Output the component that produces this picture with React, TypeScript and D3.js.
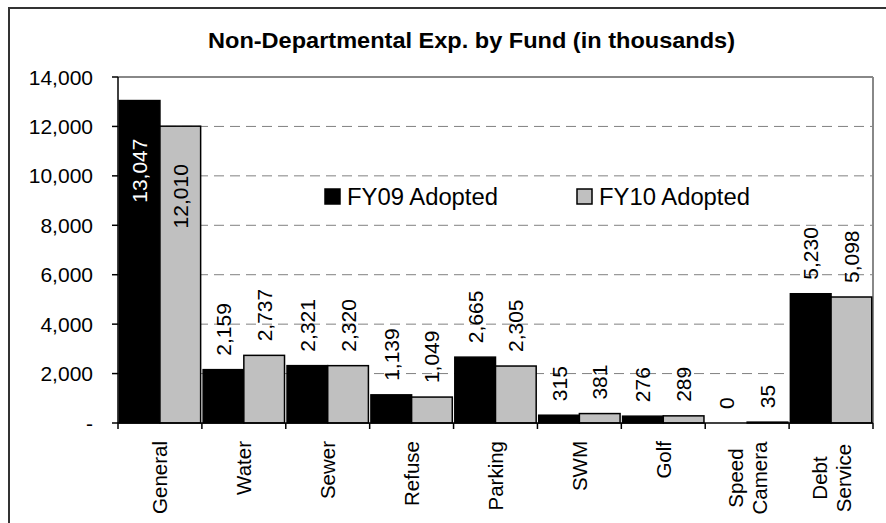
import React from "react";
import * as d3 from "d3";

// Chart data (values in thousands)
const categories = ["General", "Water", "Sewer", "Refuse", "Parking", "SWM", "Golf", "Speed\nCamera", "Debt\nService"];
const fy09 = [13047, 2159, 2321, 1139, 2665, 315, 276, 0, 5230];
const fy10 = [12010, 2737, 2320, 1049, 2305, 381, 289, 35, 5098];
const seriesNames = ["FY09 Adopted", "FY10 Adopted"];
const seriesColors = ["#000000", "#c0c0c0"];
const yTicks = [0, 2000, 4000, 6000, 8000, 10000, 12000, 14000];

const W = 886;
const H = 523;
const plot = { left: 118, right: 873, top: 77, bottom: 423 };
const FONT = "'Liberation Sans', Arial, Helvetica, sans-serif";

const App = () => {
  const x = d3.scaleBand<string>()
    .domain(categories)
    .range([plot.left, plot.right])
    .paddingInner(0.03)
    .paddingOuter(0.015);

  const xSub = d3.scaleBand<number>()
    .domain([0, 1])
    .range([0, x.bandwidth()])
    .padding(0);

  const y = d3.scaleLinear().domain([0, 14000]).range([plot.bottom, plot.top]);
  const fmt = d3.format(",");

  const step = (plot.right - plot.left) / categories.length;
  const boundaries = d3.range(categories.length + 1).map((i) => plot.left + i * step);

  const series = [fy09, fy10];

  return (
    <svg
      width={W}
      height={H}
      style={{ position: "absolute", left: 0, top: 0, background: "#fff" }}
      fontFamily={FONT}
    >
      <rect x={0} y={0} width={W} height={H} fill="#fff" />
      {/* outer border */}
      <rect x={9} y={8} width={W + 20} height={H + 20} fill="none" stroke="#333" strokeWidth={2} />

      {/* title */}
      <text x={208} y={48} fontSize={22} fontWeight="bold" textLength={527} lengthAdjust="spacingAndGlyphs">
        Non-Departmental Exp. by Fund (in thousands)
      </text>

      {/* gridlines */}
      {yTicks.filter((t) => t > 0 && t < 14000).map((t) => (
        <line key={t} x1={plot.left} x2={plot.right} y1={y(t)} y2={y(t)}
          stroke="#808080" strokeWidth={1} strokeDasharray="10,6" />
      ))}

      {/* plot frame top/right */}
      <line x1={plot.left} x2={plot.right} y1={plot.top} y2={plot.top} stroke="#888" strokeWidth={2} />
      <line x1={plot.right} x2={plot.right} y1={plot.top} y2={plot.bottom} stroke="#888" strokeWidth={2} />

      {/* bars */}
      {categories.map((c, i) => (
        <g key={c}>
          {series.map((s, k) => (
            <rect key={k}
              x={(x(c) as number) + (xSub(k) as number)}
              y={y(s[i])}
              width={xSub.bandwidth()}
              height={plot.bottom - y(s[i])}
              fill={seriesColors[k]}
              stroke="#000"
              strokeWidth={1.5}
            />
          ))}
        </g>
      ))}

      {/* value labels */}
      {categories.map((c, i) => series.map((s, k) => {
        const cx = (x(c) as number) + (xSub(k) as number) + xSub.bandwidth() / 2;
        const inside = y(s[i]) < plot.top + 60;
        const ty = inside ? y(s[i]) + 38 : y(s[i]) - 14;
        return (
          <text key={c + k}
            transform={`translate(${cx},${ty}) rotate(-90)`}
            textAnchor={inside ? "end" : "start"}
            dominantBaseline="central"
            fontSize={21}
            fill={inside && k === 0 ? "#fff" : "#000"}
          >
            {fmt(s[i])}
          </text>
        );
      }))}

      {/* y axis */}
      <line x1={plot.left} x2={plot.left} y1={plot.top} y2={plot.bottom} stroke="#000" strokeWidth={1.5} />
      {yTicks.map((t) => (
        <g key={t}>
          <line x1={plot.left - 6} x2={plot.left} y1={y(t)} y2={y(t)} stroke="#000" strokeWidth={1.5} />
          <text x={93} y={y(t)} textAnchor="end" dominantBaseline="central" fontSize={21}>
            {t === 0 ? "-" : fmt(t)}
          </text>
        </g>
      ))}

      {/* x axis */}
      <line x1={plot.left} x2={plot.right} y1={plot.bottom} y2={plot.bottom} stroke="#000" strokeWidth={1.5} />
      {boundaries.map((b, i) => (
        <line key={i} x1={b} x2={b} y1={plot.bottom} y2={plot.bottom + 6} stroke="#000" strokeWidth={1.5} />
      ))}
      {categories.map((c) => {
        const lines = c.split("\n");
        const cx = (x(c) as number) + x.bandwidth() / 2;
        const multi = lines.length > 1;
        return lines.map((ln, j) => (
          <text key={c + j}
            transform={`translate(${cx + (j - (lines.length - 1) / 2) * 24},${multi ? 478 : 441}) rotate(-90)`}
            textAnchor={multi ? "middle" : "end"}
            dominantBaseline="central"
            fontSize={20.5}
          >
            {ln}
          </text>
        ));
      })}

      {/* legend */}
      {seriesNames.map((n, k) => {
        const lx = k === 0 ? 325 : 577;
        return (
          <g key={n}>
            <rect x={lx} y={189} width={15} height={15} fill={seriesColors[k]} stroke="#000" strokeWidth={1.5} />
            <text x={lx + 22} y={205} fontSize={23} textLength={151} lengthAdjust="spacingAndGlyphs">{n}</text>
          </g>
        );
      })}
    </svg>
  );
};

export default App;
